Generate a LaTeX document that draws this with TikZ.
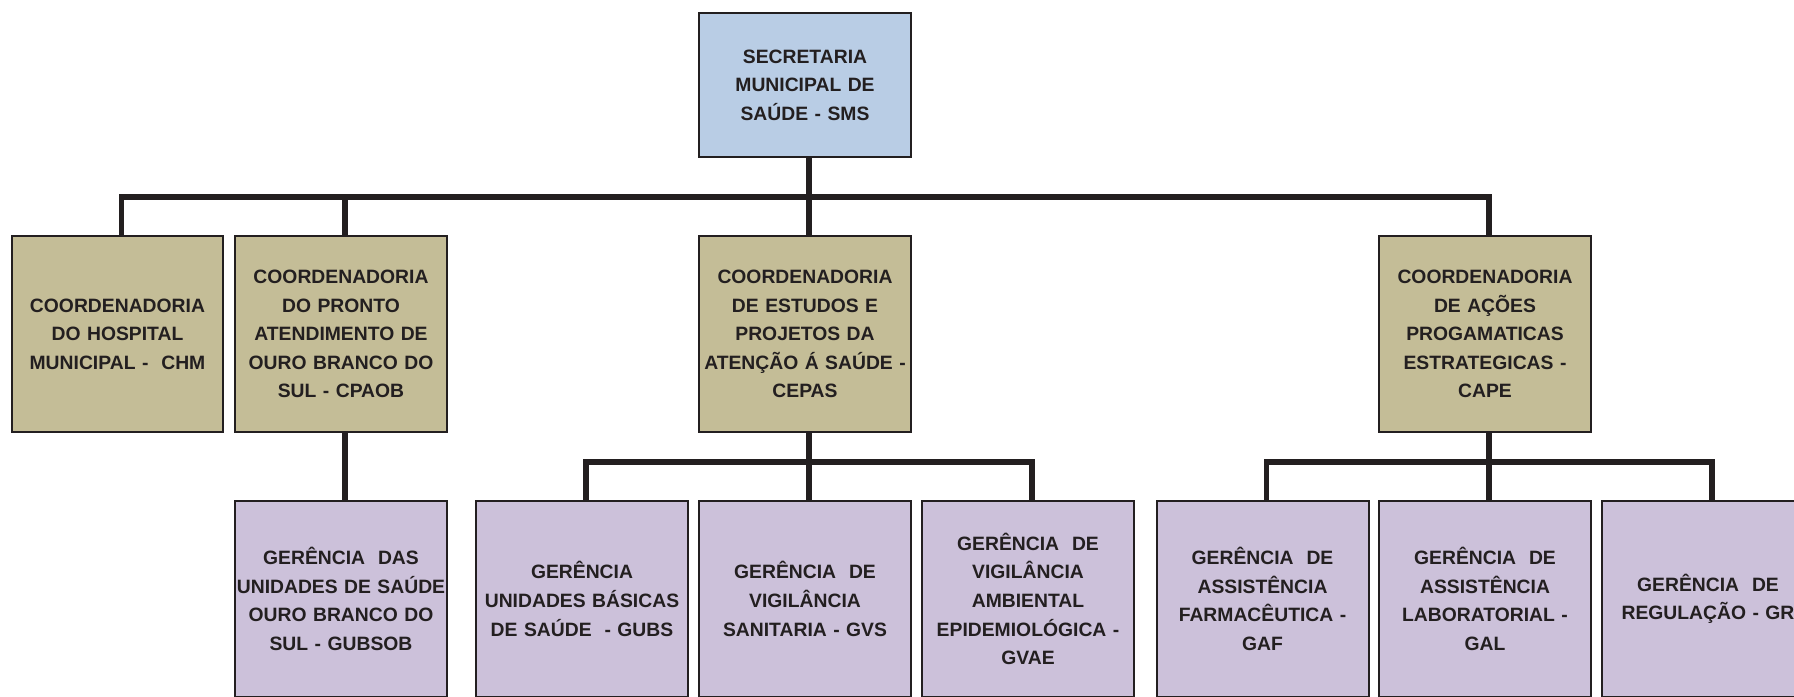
\documentclass[tikz,border=0pt]{standalone}
\usepackage{fontspec}
\setmainfont{Liberation Sans}
\definecolor{smsblue}{HTML}{B9CDE5}
\definecolor{coordtan}{HTML}{C4BD97}
\definecolor{gerlilac}{HTML}{CCC1DA}
\definecolor{inkdark}{HTML}{231F20}
\tikzset{
  box/.style={draw=inkdark, line width=.04cm, text=inkdark, inner sep=0pt, outer sep=0pt,
    text width=4.24cm, minimum height=3.92cm, align=center,
    font=\fontsize{11pt}{16.3pt}\selectfont\bfseries},
  topbox/.style={box, fill=smsblue, minimum height=2.88cm},
  coordbox/.style={box, fill=coordtan},
  gerbox/.style={box, fill=gerlilac},
  link/.style={draw=inkdark, line width=.115cm}
}
\begin{document}
\begin{tikzpicture}[x=.02cm, y=-.02cm]
    \path[use as bounding box] (0,0) rectangle (1794,696);
    \clip (0,0) rectangle (1794,696);
    \node[topbox] (sms) at (805,85) {SECRETARIA\\MUNICIPAL DE\\SAÚDE - SMS};
    \node[coordbox] (chm) at (117.5,334) {COORDENADORIA\\DO HOSPITAL\\MUNICIPAL -\ \ CHM};
    \node[coordbox] (cpaob) at (341,334) {COORDENADORIA\\DO PRONTO\\ATENDIMENTO DE\\OURO BRANCO DO\\SUL - CPAOB};
    \node[coordbox] (cepas) at (805,334) {COORDENADORIA\\DE ESTUDOS E\\PROJETOS DA\\ATENÇÃO Á SAÚDE -\\CEPAS};
    \node[coordbox] (cape) at (1485,334) {COORDENADORIA\\DE AÇÕES\\PROGAMATICAS\\ESTRATEGICAS -\\CAPE};
    \node[gerbox] (gubsob) at (341,599) {GERÊNCIA\ \ DAS\\UNIDADES DE SAÚDE\\OURO BRANCO DO\\SUL - GUBSOB};
    \node[gerbox] (gubs) at (582,599) {GERÊNCIA\\UNIDADES BÁSICAS\\DE SAÚDE\ \ - GUBS};
    \node[gerbox] (gvs) at (805,599) {GERÊNCIA\ \ DE\\VIGILÂNCIA\\SANITARIA - GVS};
    \node[gerbox] (gvae) at (1028,599) {GERÊNCIA\ \ DE\\VIGILÂNCIA\\AMBIENTAL\\EPIDEMIOLÓGICA -\\GVAE};
    \node[gerbox] (gaf) at (1262.5,599) {GERÊNCIA\ \ DE\\ASSISTÊNCIA\\FARMACÊUTICA -\\GAF};
    \node[gerbox] (gal) at (1485,599) {GERÊNCIA\ \ DE\\ASSISTÊNCIA\\LABORATORIAL -\\GAL};
    \node[gerbox] (gr) at (1708,599) {GERÊNCIA\ \ DE\\REGULAÇÃO - GR};
    \coordinate (busA) at (809,197);
    \coordinate (busB) at (809,462);
    \coordinate (busC) at (1489,462);
    \draw[link] ([xshift=.08cm]chm.north) |- (busA) -| ([xshift=.08cm]cape.north);
    \draw[link] ([xshift=.08cm]cpaob.north |- busA) -- ([xshift=.08cm]cpaob.north);
    \draw[link] ([xshift=.08cm]gubs.north) |- (busB) -| ([xshift=.08cm]gvae.north);
    \draw[link] ([xshift=.08cm]gaf.north) |- (busC) -| ([xshift=.08cm]gr.north);
    \foreach \a/\b in {sms/cepas,cpaob/gubsob,cepas/gvs,cape/gal}
    \draw[link] ([xshift=.08cm]\a.south) -- ([xshift=.08cm]\b.north);
  \end{tikzpicture}
\end{document}
